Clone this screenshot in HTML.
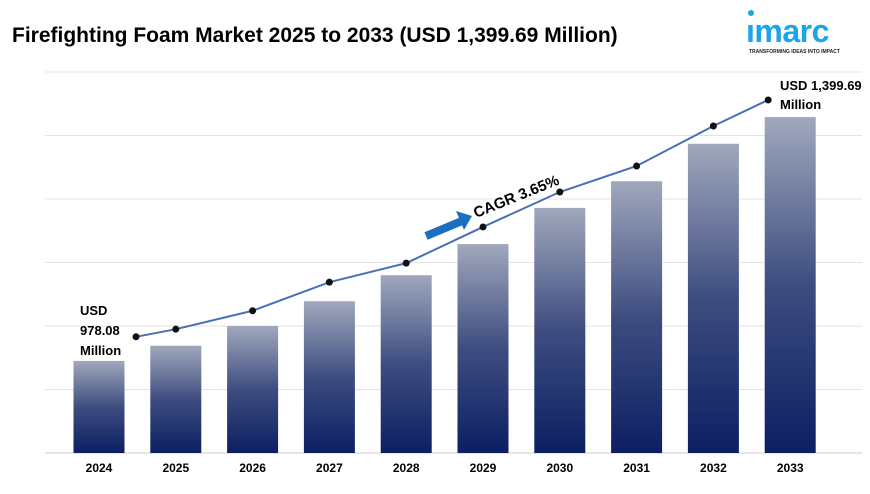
<!DOCTYPE html>
<html><head><meta charset="utf-8"><style>
body{margin:0;background:#fff;width:870px;height:489px;overflow:hidden;font-family:"Liberation Sans",sans-serif}
</style></head><body>
<svg id="c" width="870" height="489" xmlns="http://www.w3.org/2000/svg">
<defs><linearGradient id="g" x1="0" y1="0" x2="0" y2="1"><stop offset="0" stop-color="#a0a8bc"/><stop offset="0.5" stop-color="#3e4d80"/><stop offset="1" stop-color="#0c1f62"/></linearGradient></defs>
<text x="12" y="42" font-size="21" font-weight="bold" fill="#000">Firefighting Foam Market 2025 to 2033 (USD 1,399.69 Million)</text>
<g>
<circle cx="751" cy="13" r="3" fill="#1ba4e8"/>
<text x="746" y="42" font-size="32" font-weight="bold" fill="#1ba4e8" letter-spacing="-0.5">ımarc</text>
<text x="749" y="53" font-size="5" font-weight="bold" fill="#222">TRANSFORMING IDEAS INTO IMPACT</text>
</g>
<g id="grid"></g><g id="bars"></g><g id="line"></g><g id="xl"></g>
<text x="80" y="315" font-size="13" font-weight="bold"><tspan x="80">USD</tspan><tspan x="80" dy="20">978.08</tspan><tspan x="80" dy="20">Million</tspan></text>
<text x="780" y="90" font-size="13" font-weight="bold"><tspan x="780">USD 1,399.69</tspan><tspan x="780" dy="19">Million</tspan></text>
<g><line x1="426" y1="236" x2="462" y2="221" stroke="#1a6fc2" stroke-width="8"/><polygon points="472,216 456,211 464,230" fill="#1a6fc2"/></g>
<text x="476" y="218" font-size="15" font-weight="bold" transform="rotate(-22 476 218)">CAGR 3.65%</text>
</svg>
<script>
const years=["2024","2025","2026","2027","2028","2029","2030","2031","2032","2033"];
const barValues=[1.45,1.69,2.0,2.39,2.80,3.29,3.86,4.28,4.87,5.29];
const lineValues=[1.83,1.95,2.24,2.69,2.99,3.56,4.11,4.52,5.15,5.56];
const gridTicks=[0,1,2,3,4,5,6];
const ns="http://www.w3.org/2000/svg";
const y=v=>453-v*63.5;
const xc=i=>99+i*76.8;
function mk(t,a,p){const e=document.createElementNS(ns,t);for(const k in a)e.setAttribute(k,a[k]);document.getElementById(p).appendChild(e);return e;}
gridTicks.forEach(t=>{const e=mk('line',{x1:45,x2:862,y1:y(t),y2:y(t),stroke:t==0?'#ccc':'#e3e3e3','stroke-width':1},'grid');

});
years.forEach((yr,i)=>{const b=mk('rect',{x:xc(i)-25.5,y:y(barValues[i]),width:51,height:453-y(barValues[i]),fill:'url(#g)'},'bars');


const t=mk('text',{x:xc(i),y:472,'text-anchor':'middle','font-size':12,'font-weight':'bold'},'xl');t.textContent=yr;

});
const lx=i=>i==0?xc(i)+37:(i==years.length-1?xc(i)-22:xc(i));
const pts=lineValues.map((v,i)=>lx(i)+','+y(v)).join(' ');
const pl=mk('polyline',{points:pts,fill:'none',stroke:'#4a6fb5','stroke-width':2},'line');


lineValues.forEach((v,i)=>{const c=mk('circle',{cx:lx(i),cy:y(v),r:3.5,fill:'#111'},'line');

});
</script>
</body></html>
